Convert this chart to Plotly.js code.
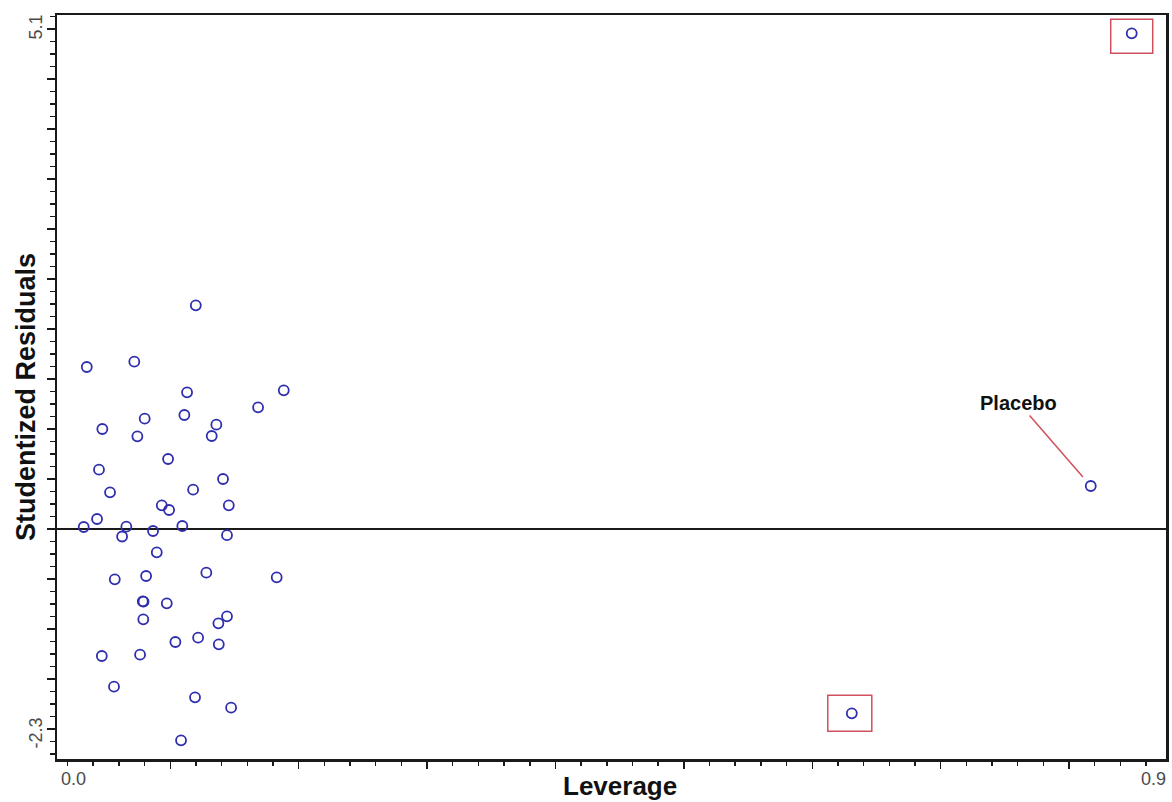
<!DOCTYPE html>
<html>
<head>
<meta charset="utf-8">
<script src="https://cdn.plot.ly/plotly-3.0.1.min.js"></script>
<style>
  html, body { margin: 0; padding: 0; background: #ffffff; }
  #plot { width: 1172px; height: 802px; }
</style>
</head>
<body>
<div id="plot"></div>
<script>
// Leverage and studentized residual of each observation
const leverage = [
  0.1199, 0.0350, 0.0720, 0.1131, 0.1884, 0.1684, 0.1110, 0.0801, 0.1359, 0.0471,
  0.0744, 0.1323, 0.0983, 0.1411, 0.0445, 0.0531, 0.1178, 0.0934, 0.0991, 0.1456,
  0.0430, 0.0326, 0.0658, 0.1094, 0.0866, 0.0625, 0.1442, 0.0895, 0.0568, 0.0812,
  0.1281, 0.1829, 0.0786, 0.0792, 0.0973, 0.0790, 0.1442, 0.1375, 0.1217, 0.1040,
  0.1378, 0.0467, 0.0765, 0.0562, 0.1193, 0.1474, 0.1084, 0.8488, 0.6308, 0.8169
];
const studentized = [
  2.237, 1.620, 1.673, 1.367, 1.387, 1.217, 1.140, 1.103, 1.043, 1.000,
  0.927, 0.930, 0.700, 0.500, 0.593, 0.367, 0.393, 0.237, 0.190, 0.237,
  0.100, 0.020, 0.023, 0.030, -0.020, -0.075, -0.062, -0.233, -0.503, -0.470,
  -0.437, -0.483, -0.723, -0.727, -0.743, -0.903, -0.873, -0.943, -1.087, -1.130,
  -1.153, -1.270, -1.257, -1.577, -1.683, -1.787, -2.113, 4.957, -1.843, 0.430
];

// Flagged observations (boxed) and the labelled one
const flagged = [47, 48];
const labelled = { index: 49, text: 'Placebo' };

// Axis extents and the rounded end labels shown at them
const xRange = [0.0118, 0.8755];
const yRange = [-2.30, 5.14];
const xEndLabels = ['0.0', '0.9'];
const yEndLabels = ['5.1', '-2.3'];

const axisTitleX = 'Leverage';
const axisTitleY = 'Studentized Residuals';

const font = 'Liberation Sans, Arial, Helvetica, sans-serif';
const pointColor = '#2e2eae';
const flagColor = '#d0505e';

const trace = {
  type: 'scatter',
  mode: 'markers',
  x: leverage,
  y: studentized,
  marker: {
    symbol: 'circle-open',
    size: 10,
    color: pointColor,
    line: { color: pointColor, width: 1.8 }
  },
  hoverinfo: 'x+y',
  showlegend: false
};

// Boxes sized in pixels, anchored on each flagged point
const boxOffsets = [
  { x0: -21, x1: 21, y0: -20, y1: 14 },
  { x0: -24, x1: 20, y0: -18, y1: 18 }
];
const shapes = flagged.map((i, k) => ({
  type: 'rect',
  xref: 'x', yref: 'y',
  xsizemode: 'pixel', ysizemode: 'pixel',
  xanchor: leverage[i], yanchor: studentized[i],
  x0: boxOffsets[k].x0, x1: boxOffsets[k].x1,
  y0: boxOffsets[k].y0, y1: boxOffsets[k].y1,
  line: { color: flagColor, width: 1.5 },
  fillcolor: 'rgba(0,0,0,0)'
}));

const endLabelFont = { family: font, size: 18, color: '#4a4a4a' };

const annotations = [
  {
    x: leverage[labelled.index], y: studentized[labelled.index],
    xref: 'x', yref: 'y',
    text: '<b>' + labelled.text + '</b>',
    showarrow: true, arrowhead: 0, arrowwidth: 1.5, arrowcolor: flagColor,
    ax: -72, ay: -83, standoff: 12,
    font: { family: font, size: 20, color: '#111111' }
  },
  // rounded end values of each axis
  { xref: 'paper', yref: 'paper', x: 0, y: 0, xshift: 2, yshift: -8,
    xanchor: 'left', yanchor: 'top', text: xEndLabels[0], showarrow: false, font: endLabelFont },
  { xref: 'paper', yref: 'paper', x: 1, y: 0, xshift: 2, yshift: -8,
    xanchor: 'right', yanchor: 'top', text: xEndLabels[1], showarrow: false, font: endLabelFont },
  { xref: 'paper', yref: 'paper', x: 0, y: 1, xshift: -21.5, yshift: -12,
    xanchor: 'center', yanchor: 'middle', textangle: -90, text: yEndLabels[0], showarrow: false, font: endLabelFont },
  { xref: 'paper', yref: 'paper', x: 0, y: 0, xshift: -21.5, yshift: 26,
    xanchor: 'center', yanchor: 'middle', textangle: -90, text: yEndLabels[1], showarrow: false, font: endLabelFont },
  // axis titles
  { xref: 'paper', yref: 'paper', x: 0.5077, y: 0, yshift: -27,
    xanchor: 'center', yanchor: 'middle', text: '<b>' + axisTitleX + '</b>', showarrow: false,
    font: { family: font, size: 26, color: '#111111' } },
  { xref: 'paper', yref: 'paper', x: 0, y: 0.4866, xshift: -31,
    xanchor: 'center', yanchor: 'middle', textangle: -90, text: '<b>' + axisTitleY + '</b>', showarrow: false,
    font: { family: font, size: 27, color: '#111111' } }
];

const layout = {
  width: 1172,
  height: 802,
  margin: { l: 57, r: 6, t: 15, b: 43, pad: 0 },
  paper_bgcolor: '#ffffff',
  plot_bgcolor: '#ffffff',
  font: { family: font, color: '#222222' },
  showlegend: false,
  xaxis: {
    range: xRange,
    showgrid: false,
    zeroline: false,
    showline: true, linecolor: '#1a1a1a', linewidth: 2.5, mirror: true,
    ticks: 'outside', tickmode: 'linear', tick0: 0, dtick: 0.1,
    ticklen: 7, tickwidth: 1.5, tickcolor: '#1a1a1a',
    showticklabels: false,
    minor: { ticks: 'outside', tick0: 0, dtick: 0.02, ticklen: 4, tickwidth: 1.5, tickcolor: '#1a1a1a', showgrid: false }
  },
  yaxis: {
    range: yRange,
    showgrid: false,
    zeroline: true, zerolinecolor: '#1a1a1a', zerolinewidth: 1.5,
    showline: true, linecolor: '#1a1a1a', linewidth: 2.5, mirror: true,
    ticks: 'outside', tickmode: 'linear', tick0: 0, dtick: 0.5,
    ticklen: 8, tickwidth: 1.5, tickcolor: '#1a1a1a',
    showticklabels: false,
    minor: { ticks: 'outside', tick0: 0, dtick: 0.125, ticklen: 5, tickwidth: 1.5, tickcolor: '#1a1a1a', showgrid: false }
  },
  shapes: shapes,
  annotations: annotations
};

Plotly.newPlot('plot', [trace], layout, { displayModeBar: false, staticPlot: true });
</script>
</body>
</html>
